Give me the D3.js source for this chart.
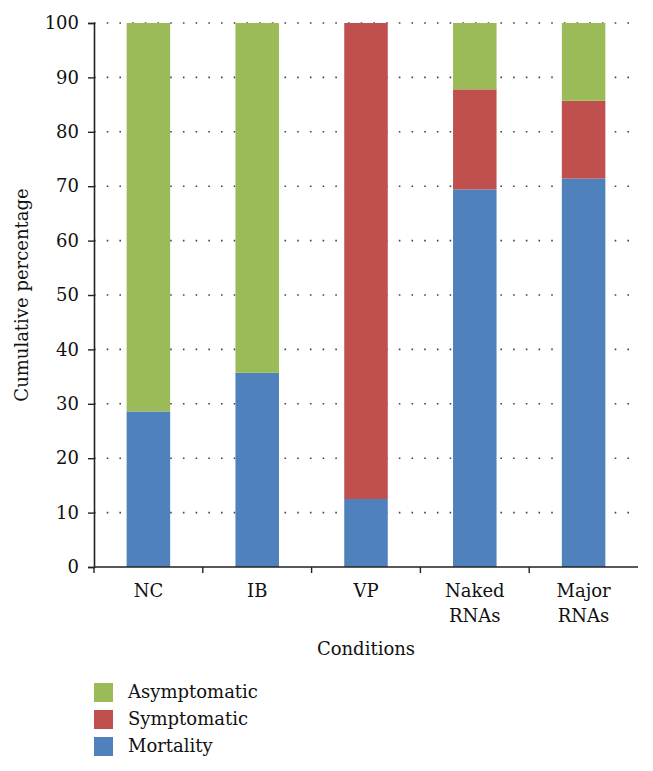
<!DOCTYPE html>
<html>
<head>
<meta charset="utf-8">
<script src="https://cdn.jsdelivr.net/npm/d3@7"></script>
<style>
  body { margin: 0; background: #fff; }
</style>
</head>
<body>
<div id="chart"></div>
<script>
// Stacked percentage bars per condition

// Data
var conditions = ["NC", "IB", "VP", "Naked RNAs", "Major RNAs"];
var mortality = [28.6, 35.7, 12.5, 69.4, 71.4];
var symptomatic = [0, 0, 87.5, 18.4, 14.3];
var asymptomatic = [71.4, 64.3, 0, 12.2, 14.3];
var yTicks = [0, 10, 20, 30, 40, 50, 60, 70, 80, 90, 100];

var seriesKeys = ["Mortality", "Symptomatic", "Asymptomatic"];
var colors = { Mortality: "#4f81bd", Symptomatic: "#c0504d", Asymptomatic: "#9bbb59" };
var serif = "DejaVu Serif";
var fontSize = 18;

// Build rows for d3.stack
var rows = conditions.map(function(c, i) {
    return { cond: c, Mortality: mortality[i], Symptomatic: symptomatic[i], Asymptomatic: asymptomatic[i] };
});

// SVG setup
var svgWidth = 653;
var svgHeight = 771;
var margin = { top: 23, right: 15, bottom: 204, left: 94 };
var width = svgWidth - margin.left - margin.right;
var height = svgHeight - margin.top - margin.bottom;

var svg = d3.select("#chart").append("svg")
    .attr("width", svgWidth)
    .attr("height", svgHeight);

var chartGroup = svg.append("g")
    .attr("transform", `translate(${margin.left}, ${margin.top})`);

// Scales
var x = d3.scaleBand()
    .domain(conditions)
    .range([0, width])
    .paddingInner(0.6)
    .paddingOuter(0.3);

var y = d3.scaleLinear()
    .domain([0, 100])
    .range([height, 0]);

// Dotted gridlines
chartGroup.append("g")
    .selectAll("line")
    .data(yTicks.filter(function(t) { return t > 0; }))
    .enter().append("line")
    .attr("x1", 0)
    .attr("x2", width)
    .attr("y1", function(d) { return y(d); })
    .attr("y2", function(d) { return y(d); })
    .attr("stroke", "#444")
    .attr("stroke-width", 1.6)
    .attr("stroke-dasharray", "1.6 11.1");

// Stacked bars
var stacked = d3.stack().keys(seriesKeys)(rows);

chartGroup.append("g")
    .selectAll("g")
    .data(stacked)
    .enter().append("g")
    .attr("fill", function(d) { return colors[d.key]; })
    .selectAll("rect")
    .data(function(d) { return d; })
    .enter().append("rect")
    .attr("x", function(d) { return x(d.data.cond); })
    .attr("width", x.bandwidth())
    .attr("y", function(d) { return y(d[1]); })
    .attr("height", function(d) { return y(d[0]) - y(d[1]); });

// Y axis
var leftAxis = d3.axisLeft(y)
    .tickValues(yTicks)
    .tickSize(6)
    .tickPadding(9);

var yAxis = chartGroup.append("g").call(leftAxis)
    .attr("font-family", serif)
    .attr("font-size", fontSize);
yAxis.select(".domain").attr("stroke", "#222").attr("stroke-width", 1.6);
yAxis.selectAll(".tick line").attr("stroke", "#222").attr("stroke-width", 1.4);
yAxis.selectAll("text").attr("fill", "#111");

// X axis line + boundary ticks
var xAxis = chartGroup.append("g")
    .attr("transform", `translate(0, ${height})`)
    .attr("font-family", serif)
    .attr("font-size", fontSize);
xAxis.append("line")
    .attr("x1", 0).attr("x2", width)
    .attr("stroke", "#222").attr("stroke-width", 1.6);
xAxis.selectAll(".bt")
    .data(d3.range(conditions.length))
    .enter().append("line")
    .attr("class", "bt")
    .attr("x1", function(i) { return x.range()[0] + i * x.step(); })
    .attr("x2", function(i) { return x.range()[0] + i * x.step(); })
    .attr("y1", 0).attr("y2", 6)
    .attr("stroke", "#222").attr("stroke-width", 1.4);

// Category labels (wrap on space)
var lbl = xAxis.selectAll(".lbl")
    .data(conditions)
    .enter().append("text")
    .attr("class", "lbl")
    .attr("text-anchor", "middle")
    .attr("fill", "#111")
    .attr("x", function(d) { return x(d) + x.bandwidth() / 2; })
    .attr("y", 30);
lbl.each(function(d) {
    var parts = d.split(" ");
    var t = d3.select(this);
    parts.forEach(function(p, i) {
        t.append("tspan")
            .attr("x", x(d) + x.bandwidth() / 2)
            .attr("dy", i === 0 ? 0 : 25)
            .text(p);
    });
});

// Axis titles
chartGroup.append("text")
    .attr("text-anchor", "middle")
    .attr("font-family", serif)
    .attr("font-size", fontSize)
    .attr("fill", "#111")
    .attr("x", width / 2)
    .attr("y", height + 88)
    .text("Conditions");

chartGroup.append("text")
    .attr("text-anchor", "middle")
    .attr("font-family", serif)
    .attr("font-size", fontSize)
    .attr("fill", "#111")
    .attr("transform", `translate(${28 - margin.left}, ${height / 2}) rotate(-90)`)
    .text("Cumulative percentage");

// Legend (top entry = top of stack)
var legendKeys = ["Asymptomatic", "Symptomatic", "Mortality"];
var legend = svg.append("g")
    .attr("transform", "translate(94, 683)")
    .attr("font-family", serif)
    .attr("font-size", fontSize);
var item = legend.selectAll("g")
    .data(legendKeys)
    .enter().append("g")
    .attr("transform", function(d, i) { return `translate(0, ${i * 27})`; });
item.append("rect")
    .attr("width", 19)
    .attr("height", 19)
    .attr("fill", function(d) { return colors[d]; });
item.append("text")
    .attr("x", 34)
    .attr("y", 15)
    .attr("fill", "#111")
    .text(function(d) { return d; });
</script>
</body>
</html>
